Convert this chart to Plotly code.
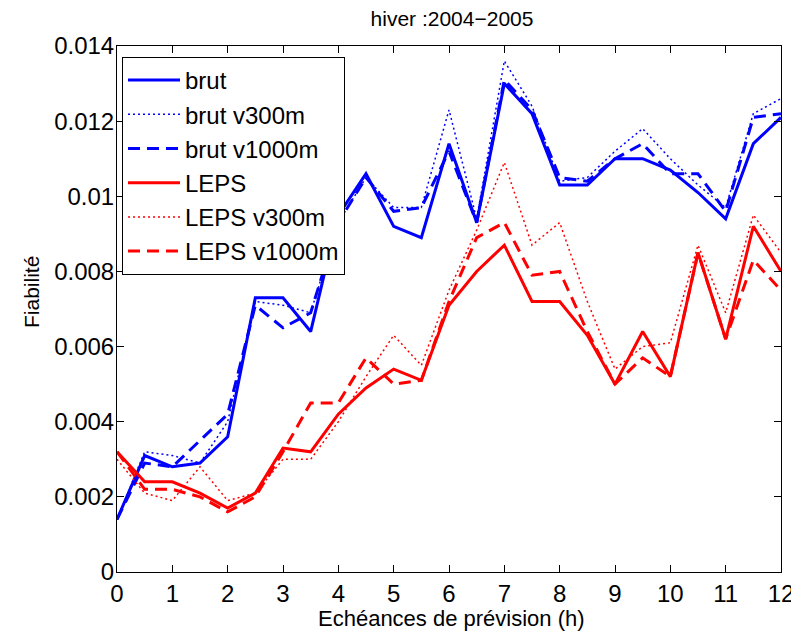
import plotly.graph_objects as go

x = [0, 0.5, 1, 1.5, 2, 2.5, 3, 3.5, 4, 4.5, 5, 5.5, 6, 6.5, 7, 7.5, 8, 8.5, 9, 9.5, 10, 10.5, 11, 11.5, 12]

brut = [0.0014, 0.0031, 0.0028, 0.0029, 0.0036, 0.0073, 0.0073, 0.0064, 0.0095, 0.0106,
        0.0092, 0.0089, 0.0114, 0.0093, 0.0130, 0.0122, 0.0103, 0.0103, 0.0110, 0.0110,
        0.0107, 0.0101, 0.0094, 0.0114, 0.0121]
brut_v300 = [0.0014, 0.0032, 0.0031, 0.0029, 0.0040, 0.0072, 0.0071, 0.0069, 0.0093, 0.0105,
             0.0097, 0.0097, 0.0123, 0.0094, 0.0136, 0.0124, 0.0104, 0.0105, 0.0112, 0.0118,
             0.0110, 0.0103, 0.0097, 0.0122, 0.0126]
brut_v1000 = [0.0014, 0.0029, 0.0028, 0.0035, 0.0042, 0.0071, 0.0065, 0.0069, 0.0093, 0.0105,
              0.0096, 0.0097, 0.0112, 0.0093, 0.0131, 0.0123, 0.0105, 0.0104, 0.0110, 0.0114,
              0.0106, 0.0106, 0.0096, 0.0121, 0.0122]
leps = [0.0032, 0.0024, 0.0024, 0.0021, 0.0017, 0.0021, 0.0033, 0.0032, 0.0042, 0.0049,
        0.0054, 0.0051, 0.0071, 0.0080, 0.0087, 0.0072, 0.0072, 0.0063, 0.0050, 0.0064,
        0.0052, 0.0085, 0.0062, 0.0092, 0.0080]
leps_v300 = [0.0030, 0.0021, 0.0019, 0.0028, 0.0019, 0.0021, 0.0030, 0.0030, 0.0040, 0.0052,
             0.0063, 0.0055, 0.0075, 0.0091, 0.0109, 0.0087, 0.0093, 0.0072, 0.0054, 0.0060,
             0.0061, 0.0087, 0.0069, 0.0095, 0.0085]
leps_v1000 = [0.0032, 0.0022, 0.0022, 0.0020, 0.0016, 0.0020, 0.0032, 0.0045, 0.0045, 0.0057,
              0.0050, 0.0051, 0.0072, 0.0089, 0.0093, 0.0079, 0.0080, 0.0064, 0.0050, 0.0057,
              0.0052, 0.0085, 0.0062, 0.0083, 0.0075]

x_ticks = [0, 1, 2, 3, 4, 5, 6, 7, 8, 9, 10, 11, 12]
y_ticks = [0, 0.002, 0.004, 0.006, 0.008, 0.010, 0.012, 0.014]
y_ticktext = ["0", "0.002", "0.004", "0.006", "0.008", "0.01", "0.012", "0.014"]

BLUE = "#0000FF"
RED = "#FF0000"
FONT = "Liberation Sans, Arial, sans-serif"

# the page body adds an 8px offset; figure coordinates are page coordinates minus 8
OFF = 8
W, H = 799 - OFF, 635 - OFF
L, R, T, B = 117 - OFF, 18, 46 - OFF, 63
pw = W - L - R
ph = H - T - B


def px_x(page_x):
    return (page_x - OFF - L) / pw


def px_y(page_y):
    return 1 - (page_y - OFF - T) / ph


series = [
    ("brut", brut, BLUE, "solid", 3),
    ("brut v300m", brut_v300, BLUE, "2px,3px", 1.5),
    ("brut v1000m", brut_v1000, BLUE, "12px,7px", 3),
    ("LEPS", leps, RED, "solid", 3),
    ("LEPS v300m", leps_v300, RED, "2px,3px", 1.5),
    ("LEPS v1000m", leps_v1000, RED, "12px,7px", 3),
]

fig = go.Figure()
for name, vals, col, dash, w in series:
    fig.add_trace(go.Scatter(x=x, y=vals, mode="lines", name=name,
                             line=dict(color=col, dash=dash, width=w)))

axis_common = dict(showline=True, linecolor="black", linewidth=1, mirror="ticks",
                   ticks="inside", ticklen=7, tickcolor="black", showgrid=False,
                   zeroline=False, automargin=False,
                   tickfont=dict(family=FONT, size=24, color="black"))

fig.update_layout(
    width=W, height=H,
    margin=dict(l=L, r=R, t=T, b=B),
    paper_bgcolor="white", plot_bgcolor="white",
    font=dict(family=FONT, size=24, color="black"),
    title=dict(text="hiver :2004\u22122005", x=(452 - OFF) / W, xanchor="center",
               y=1 - 3 / H, yanchor="top", yref="container",
               font=dict(family=FONT, size=21, color="black")),
    xaxis=dict(range=[0, 12], tickvals=x_ticks, **axis_common),
    yaxis=dict(range=[0, 0.014], tickvals=y_ticks, ticktext=y_ticktext,
               ticklabelstandoff=-3, **axis_common),
    legend=dict(x=px_x(122), y=px_y(57), xanchor="left", yanchor="top",
                bordercolor="black", borderwidth=1, bgcolor="white",
                font=dict(family=FONT, size=24, color="black"),
                itemwidth=52, tracegroupgap=0),
    showlegend=True,
    annotations=[
        dict(text="Echéances de prévision (h)", xref="paper", yref="paper",
             x=px_x(452), y=px_y(618), xanchor="center", yanchor="middle",
             showarrow=False, font=dict(family=FONT, size=22, color="black")),
        dict(text="Fiabilité", xref="paper", yref="paper", textangle=-90,
             x=px_x(31), y=px_y(292), xanchor="center", yanchor="middle",
             showarrow=False, font=dict(family=FONT, size=21, color="black")),
    ],
)

fig.write_html("out.html")
